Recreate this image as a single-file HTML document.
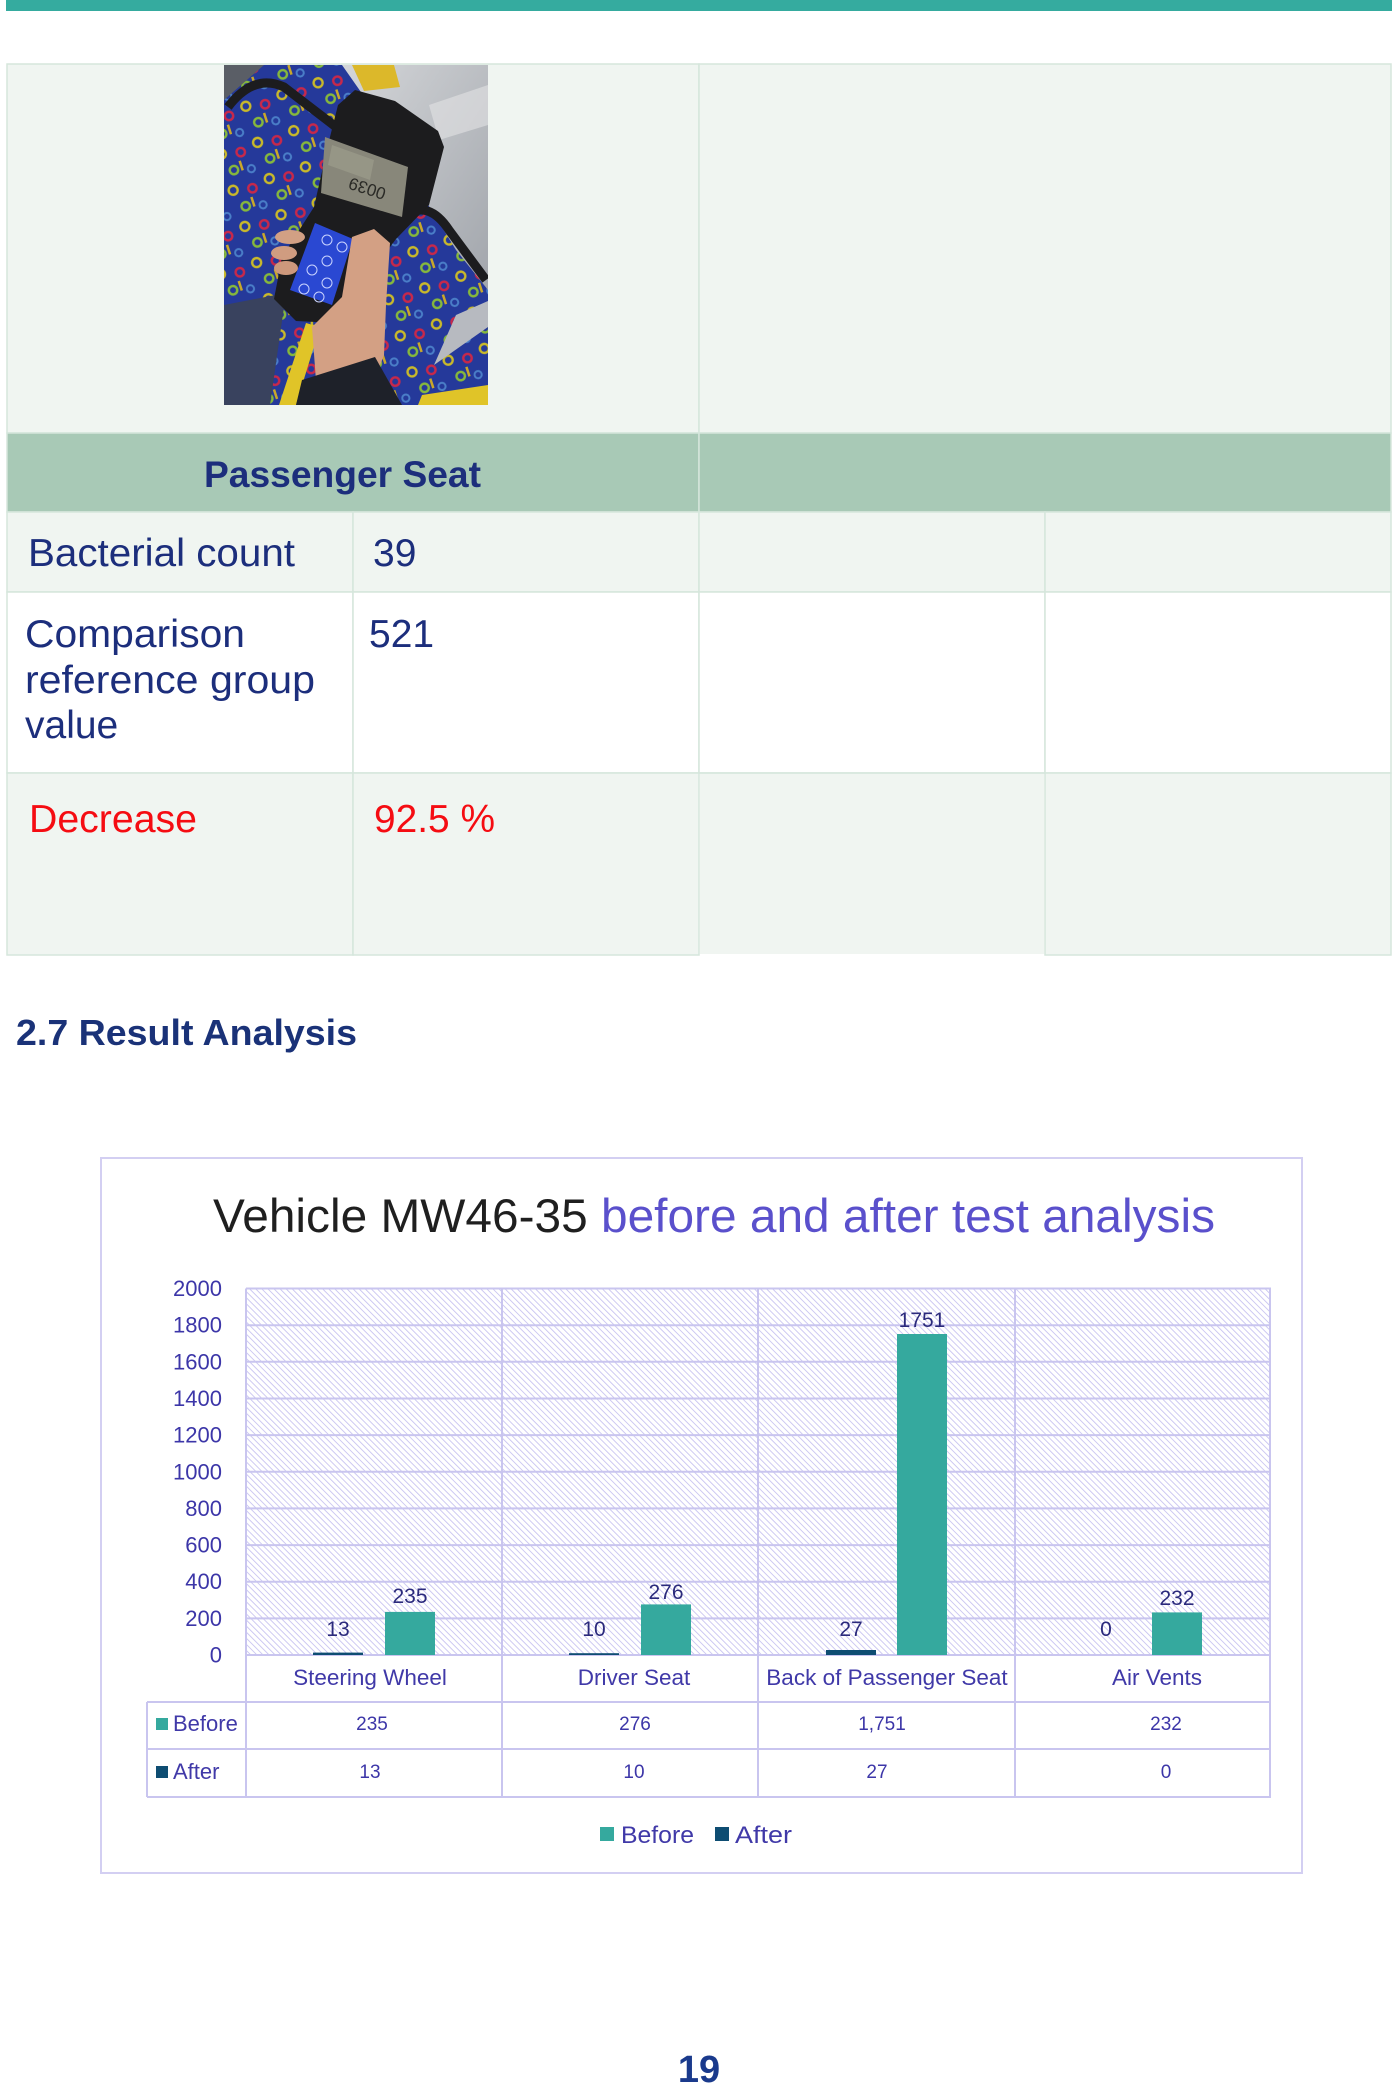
<!DOCTYPE html>
<html>
<head>
<meta charset="utf-8">
<style>
  html,body{margin:0;padding:0;background:#fff;}
  svg{display:block;}
  text{font-family:"Liberation Sans",sans-serif;}
</style>
</head>
<body>
<svg width="1400" height="2092" viewBox="0 0 1400 2092" xmlns="http://www.w3.org/2000/svg">
  <defs>
    <pattern id="hatch" width="4.3" height="4.3" patternUnits="userSpaceOnUse" patternTransform="rotate(-45)">
      <rect width="4.3" height="4.3" fill="#ffffff"/>
      <line x1="0" y1="0" x2="0" y2="4.3" stroke="#c9c4f1" stroke-width="1.8"/>
    </pattern>
    <pattern id="seat" width="38" height="38" patternUnits="userSpaceOnUse" patternTransform="rotate(-18)">
      <rect width="38" height="38" fill="#25399a"/>
      <circle cx="8" cy="8" r="4.5" fill="none" stroke="#c9b92a" stroke-width="2.4"/>
      <circle cx="27" cy="12" r="4.2" fill="none" stroke="#c8284a" stroke-width="2.4"/>
      <circle cx="15" cy="27" r="4.2" fill="none" stroke="#86b83c" stroke-width="2.4"/>
      <circle cx="32" cy="31" r="3.6" fill="none" stroke="#4a7ec8" stroke-width="2"/>
      <rect x="22" y="20" width="2.5" height="10" fill="#c9a82a"/>
    </pattern>
    <clipPath id="photoclip"><rect x="0" y="0" width="264" height="340"/></clipPath>
    <linearGradient id="win" x1="0" y1="0" x2="1" y2="1">
      <stop offset="0" stop-color="#d4d6d9"/>
      <stop offset="1" stop-color="#a2a6ac"/>
    </linearGradient>
  </defs>

  <!-- top teal bar -->
  <rect x="6" y="0" width="1386" height="11" fill="#35ab9f"/>

  <!-- ===== TABLE ===== -->
  <g stroke="#d5e6dc" stroke-width="1.5">
    <rect x="7" y="64" width="692" height="369" fill="#f0f5f1"/>
    <rect x="699" y="64" width="692" height="369" fill="#f0f5f1"/>
    <rect x="7" y="433" width="692" height="79" fill="#a8c9b6"/>
    <rect x="699" y="433" width="692" height="79" fill="#a8c9b6"/>
    <rect x="7" y="512" width="346" height="80" fill="#f0f5f1"/>
    <rect x="353" y="512" width="346" height="80" fill="#f0f5f1"/>
    <rect x="699" y="512" width="346" height="80" fill="#f0f5f1"/>
    <rect x="1045" y="512" width="346" height="80" fill="#f0f5f1"/>
    <rect x="7" y="592" width="346" height="181" fill="#ffffff"/>
    <rect x="353" y="592" width="346" height="181" fill="#ffffff"/>
    <rect x="699" y="592" width="346" height="181" fill="#ffffff"/>
    <rect x="1045" y="592" width="346" height="181" fill="#ffffff"/>
    <rect x="7" y="773" width="346" height="182" fill="#f0f5f1"/>
    <rect x="353" y="773" width="346" height="182" fill="#f0f5f1"/>
    <rect x="1045" y="773" width="346" height="182" fill="#f0f5f1"/>
  </g>
  <rect x="700" y="774" width="344" height="180" fill="#f0f5f1"/>
  <line x1="699" y1="773" x2="1045" y2="773" stroke="#d5e6dc" stroke-width="1.5"/>

  <!-- Photo -->
  <g transform="translate(224,65)" clip-path="url(#photoclip)">
    <rect x="0" y="0" width="264" height="340" fill="url(#seat)"/>
    <polygon points="118,0 264,0 264,225 232,185 195,125 160,60" fill="url(#win)"/>
    <polygon points="0,0 40,0 0,35" fill="#5a5e66"/>
    <polygon points="128,0 170,0 176,22 140,26" fill="#dcb82a"/>
    <polygon points="205,40 264,20 264,60 215,75" fill="#e2e3e4" opacity="0.6"/>
    <path d="M4,42 Q30,8 60,22 L112,62" fill="none" stroke="#1c1c1e" stroke-width="9"/>
    <path d="M182,150 Q205,135 225,165 L262,215" fill="none" stroke="#1c1c1e" stroke-width="9"/>
    <polygon points="0,240 62,228 46,340 0,340" fill="#39425e"/>
    <polygon points="82,258 96,262 72,340 55,340" fill="#e0c428"/>
    <polygon points="198,330 264,320 264,340 194,340" fill="#e0c428"/>
    <polygon points="232,250 264,236 264,262 210,300" fill="#b7bac0"/>
    <!-- device -->
    <polygon points="131,25 171,36 214,66 220,82 205,140 172,174 142,214 112,258 72,256 50,234 58,192 90,142 104,80 114,40" fill="#1c1c1e"/>
    <polygon points="101,72 184,102 178,152 97,128" fill="#88877a"/>
    <polygon points="108,80 150,95 146,115 104,100" fill="#9d9c8c" opacity="0.7"/>
    <text x="0" y="0" transform="translate(145,118) rotate(198)" font-size="17" fill="#2a2a26" text-anchor="middle">0039</text>
    <polygon points="91,158 129,174 108,240 66,225" fill="#2a48d2"/>
    <g fill="none" stroke="#c9d3ff" stroke-width="1">
      <circle cx="103" cy="175" r="5"/><circle cx="118" cy="182" r="5"/>
      <circle cx="103" cy="196" r="5"/><circle cx="88" cy="205" r="5"/>
      <circle cx="103" cy="218" r="5"/><circle cx="80" cy="224" r="5"/>
      <circle cx="95" cy="232" r="5"/>
    </g>
    <!-- hand -->
    <ellipse cx="66" cy="172" rx="15" ry="7" fill="#d2a084"/>
    <ellipse cx="60" cy="188" rx="13" ry="7" fill="#d09c80"/>
    <ellipse cx="62" cy="203" rx="12" ry="7" fill="#cd987c"/>
    <polygon points="128,172 150,164 166,178 162,240 160,290 150,316 92,316 88,262 118,232" fill="#d3a084"/>
    <polygon points="78,315 151,292 178,340 72,340" fill="#1e2129"/>
  </g>

  <!-- table text -->
  <g fill="#1c2e7c">
    <text x="204" y="487" font-size="37" font-weight="bold" textLength="277" lengthAdjust="spacingAndGlyphs">Passenger Seat</text>
    <text x="28" y="566" font-size="39" textLength="267" lengthAdjust="spacingAndGlyphs">Bacterial count</text>
    <text x="373" y="566" font-size="39">39</text>
    <text x="25" y="647" font-size="39" textLength="220" lengthAdjust="spacingAndGlyphs">Comparison</text>
    <text x="25" y="693" font-size="39" textLength="290" lengthAdjust="spacingAndGlyphs">reference group</text>
    <text x="25" y="738" font-size="39">value</text>
    <text x="369" y="647" font-size="39">521</text>
  </g>
  <g fill="#f50c12">
    <text x="29" y="832" font-size="39" textLength="168" lengthAdjust="spacingAndGlyphs">Decrease</text>
    <text x="374" y="832" font-size="39" textLength="121" lengthAdjust="spacingAndGlyphs">92.5 %</text>
  </g>

  <!-- section heading -->
  <text x="16" y="1045" font-size="36" font-weight="bold" fill="#1a3278" textLength="341" lengthAdjust="spacingAndGlyphs">2.7 Result Analysis</text>

  <!-- ===== CHART ===== -->
  <rect x="101" y="1158" width="1201" height="715" fill="#ffffff" stroke="#d3cff2" stroke-width="2"/>

  <text x="213" y="1232" font-size="47" textLength="1002" lengthAdjust="spacingAndGlyphs"><tspan fill="#1f1f1f">Vehicle MW46-35 </tspan><tspan fill="#5a50cc">before and after test analysis</tspan></text>

  <!-- plot area -->
  <rect x="246" y="1288.5" width="1024" height="366.5" fill="url(#hatch)"/>
  <g stroke="#c9c5ef" stroke-width="2">
    <line x1="246" y1="1288.5" x2="1271" y2="1288.5"/>
    <line x1="246" y1="1325.2" x2="1271" y2="1325.2"/>
    <line x1="246" y1="1361.8" x2="1271" y2="1361.8"/>
    <line x1="246" y1="1398.5" x2="1271" y2="1398.5"/>
    <line x1="246" y1="1435.1" x2="1271" y2="1435.1"/>
    <line x1="246" y1="1471.8" x2="1271" y2="1471.8"/>
    <line x1="246" y1="1508.4" x2="1271" y2="1508.4"/>
    <line x1="246" y1="1545.1" x2="1271" y2="1545.1"/>
    <line x1="246" y1="1581.7" x2="1271" y2="1581.7"/>
    <line x1="246" y1="1618.4" x2="1271" y2="1618.4"/>
    <line x1="246" y1="1655" x2="1271" y2="1655"/>
    <line x1="246" y1="1288.5" x2="246" y2="1797"/>
    <line x1="502" y1="1288.5" x2="502" y2="1797"/>
    <line x1="758" y1="1288.5" x2="758" y2="1797"/>
    <line x1="1015" y1="1288.5" x2="1015" y2="1797"/>
    <line x1="1270" y1="1288.5" x2="1270" y2="1797"/>
    <line x1="147" y1="1702" x2="1271" y2="1702"/>
    <line x1="147" y1="1749" x2="1271" y2="1749"/>
    <line x1="147" y1="1797" x2="1271" y2="1797"/>
    <line x1="147" y1="1702" x2="147" y2="1797"/>
  </g>

  <!-- y axis labels -->
  <g fill="#3c36a8" font-size="22" text-anchor="end">
    <text x="222" y="1296">2000</text>
    <text x="222" y="1332.7">1800</text>
    <text x="222" y="1369.3">1600</text>
    <text x="222" y="1406">1400</text>
    <text x="222" y="1442.6">1200</text>
    <text x="222" y="1479.3">1000</text>
    <text x="222" y="1515.9">800</text>
    <text x="222" y="1552.6">600</text>
    <text x="222" y="1589.2">400</text>
    <text x="222" y="1625.9">200</text>
    <text x="222" y="1662.5">0</text>
  </g>

  <!-- bars -->
  <g>
    <rect x="313" y="1652.6" width="50" height="2.4" fill="#0e4d72"/>
    <rect x="569" y="1653.2" width="50" height="1.8" fill="#0e4d72"/>
    <rect x="826" y="1650" width="50" height="5" fill="#0e4d72"/>
    <rect x="385" y="1611.9" width="50" height="43.1" fill="#35a99e"/>
    <rect x="641" y="1604.4" width="50" height="50.6" fill="#35a99e"/>
    <rect x="897" y="1334" width="50" height="321" fill="#35a99e"/>
    <rect x="1152" y="1612.4" width="50" height="42.6" fill="#35a99e"/>
  </g>

  <!-- data labels -->
  <g fill="#2b2a7c" font-size="21" text-anchor="middle">
    <text x="338" y="1636">13</text>
    <text x="410" y="1603">235</text>
    <text x="594" y="1636">10</text>
    <text x="666" y="1599">276</text>
    <text x="851" y="1636">27</text>
    <text x="922" y="1327">1751</text>
    <text x="1106" y="1636">0</text>
    <text x="1177" y="1605">232</text>
  </g>

  <!-- category labels -->
  <g fill="#4039a8" font-size="22.5" text-anchor="middle">
    <text x="370" y="1685">Steering Wheel</text>
    <text x="634" y="1685">Driver Seat</text>
    <text x="887" y="1685">Back of Passenger Seat</text>
    <text x="1157" y="1685">Air Vents</text>
  </g>

  <!-- data table -->
  <rect x="156" y="1718" width="12" height="12" fill="#35a99e"/>
  <rect x="156" y="1766" width="12" height="12" fill="#0e4d72"/>
  <g fill="#4039a8" font-size="22">
    <text x="173" y="1731">Before</text>
    <text x="173" y="1779">After</text>
  </g>
  <g fill="#3c36a8" font-size="19" text-anchor="middle">
    <text x="372" y="1730">235</text>
    <text x="635" y="1730">276</text>
    <text x="882" y="1730">1,751</text>
    <text x="1166" y="1730">232</text>
    <text x="370" y="1778">13</text>
    <text x="634" y="1778">10</text>
    <text x="877" y="1778">27</text>
    <text x="1166" y="1778">0</text>
  </g>

  <!-- legend -->
  <rect x="600" y="1827" width="14" height="14" fill="#35a99e"/>
  <rect x="715" y="1827" width="14" height="14" fill="#0e4d72"/>
  <g fill="#4039a8" font-size="24">
    <text x="621" y="1843" textLength="73" lengthAdjust="spacingAndGlyphs">Before</text>
    <text x="735" y="1843" textLength="57" lengthAdjust="spacingAndGlyphs">After</text>
  </g>

  <!-- page number -->
  <text x="699" y="2082" font-size="38" font-weight="bold" fill="#1a3a8c" text-anchor="middle">19</text>
</svg>
</body>
</html>
